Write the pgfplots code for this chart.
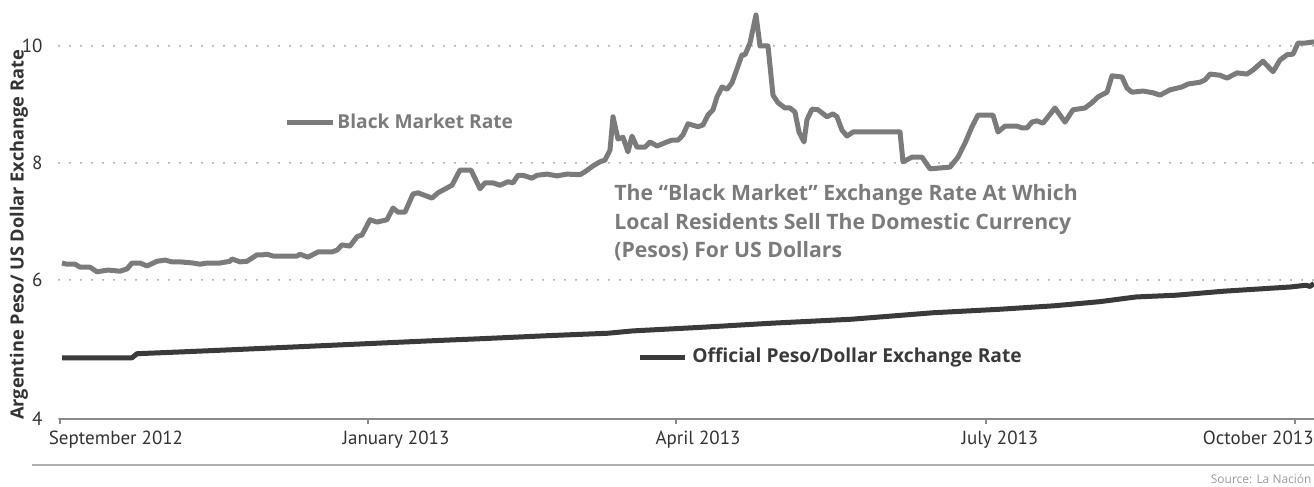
\documentclass[border=0pt]{standalone}
\usepackage{fontspec}
\setmainfont{Open Sans}
\newfontfamily\tickfont{PT Sans}
\usepackage{pgfplots}
\pgfplotsset{compat=1.18}
\definecolor{bm}{HTML}{7B7B7B}
\definecolor{off}{HTML}{3A3A3A}
\definecolor{txt}{HTML}{333333}
\definecolor{gridc}{HTML}{9A9A9A}
\definecolor{axc}{HTML}{8A8A8A}
\begin{document}
\begin{tikzpicture}[x=1pt,y=1pt]
\path[use as bounding box] (0,0) rectangle (657,243.5);
\begin{axis}[
  at={(29.5pt,34pt)}, anchor=south west,
  scale only axis, width=627.5pt, height=209.5pt,
  xmin=59, xmax=1314, ymin=3.624, ymax=10.786,
  axis x line*=bottom, axis y line*=left,
  y axis line style={draw=none},
  x axis line style={draw=axc, line width=0.8pt},
  xtick={60,368,676,986,1295}, xticklabel=\empty,
  x tick style={draw=axc, line width=0.8pt}, tick align=outside,
  major tick length=2.5pt,
  ytick={3.624,6,8,10}, yticklabels={4,6,8,10},
  y tick style={draw=none},
  yticklabel style={anchor=east, inner sep=0pt, xshift=-5.5pt,
    font=\tickfont\fontsize{9.5}{10}\selectfont, text=txt},
  ymajorgrids,
  grid style={draw=gridc, line width=1pt, dash pattern=on 0pt off 5.5pt, line cap=round},
  clip=false,
]
\addplot[bm, line width=2.5pt, line join=round] coordinates {
(62,6.29) (67,6.27) (75,6.27) (80,6.22) (90,6.22) (97,6.14) (108,6.17) (120,6.15)
(127,6.19) (132,6.29) (140,6.29) (147,6.24) (157,6.32) (165,6.34) (172,6.31) (180,6.31)
(193,6.29) (200,6.27) (207,6.29) (220,6.29) (230,6.32) (232,6.36) (240,6.31) (247,6.32)
(257,6.43) (263,6.43) (267,6.44) (273,6.41) (297,6.41) (300,6.44) (308,6.39) (318,6.48)
(332,6.48) (337,6.51) (342,6.60) (350,6.58) (357,6.74) (362,6.77) (370,7.03) (377,6.99)
(387,7.03) (393,7.23) (398,7.16) (405,7.16) (413,7.47) (418,7.49) (432,7.40) (438,7.49)
(452,7.62) (460,7.88) (471,7.88) (480,7.56) (485,7.66) (493,7.66) (500,7.62) (508,7.68)
(513,7.66) (518,7.79) (523,7.79) (532,7.74) (537,7.79) (547,7.81) (557,7.78) (567,7.81)
(580,7.80) (585,7.85) (593,7.95) (600,8.02) (605,8.05) (610,8.22) (613,8.79) (618,8.41)
(623,8.44) (628,8.19) (632,8.46) (637,8.27) (645,8.27) (650,8.36) (657,8.29) (667,8.36)
(672,8.39) (678,8.39) (683,8.48) (688,8.67) (698,8.62) (703,8.65) (708,8.82) (713,8.91)
(717,9.13) (722,9.30) (727,9.26) (732,9.37) (742,9.85) (745,9.85) (750,10.05) (756,10.53)
(760,10.00) (768,10.00) (773,9.16) (778,9.03) (785,8.94) (790,8.94) (795,8.87) (799,8.53)
(804,8.36) (807,8.74) (812,8.92) (818,8.91) (827,8.79) (833,8.84) (837,8.79) (842,8.56)
(847,8.46) (853,8.53) (900,8.53) (903,8.02) (912,8.10) (922,8.10) (930,7.90) (937,7.91)
(950,7.93) (958,8.10) (965,8.34) (972,8.62) (978,8.82) (993,8.82) (998,8.53) (1005,8.63)
(1017,8.63) (1022,8.60) (1027,8.60) (1032,8.70) (1037,8.72) (1043,8.68) (1055,8.94) (1065,8.70)
(1073,8.91) (1085,8.94) (1092,9.03) (1098,9.13) (1107,9.21) (1112,9.49) (1122,9.47) (1127,9.28)
(1132,9.21) (1143,9.23) (1153,9.20) (1160,9.16) (1170,9.25) (1182,9.30) (1188,9.35) (1200,9.38)
(1205,9.42) (1210,9.52) (1220,9.50) (1227,9.45) (1237,9.54) (1247,9.52) (1253,9.59) (1263,9.74)
(1273,9.56) (1280,9.76) (1287,9.85) (1293,9.86) (1298,10.05) (1305,10.05) (1314,10.07)
};
\addplot[off, line width=2.5pt, line join=round] coordinates {
(62,4.67) (132,4.67) (137,4.74) (180,4.77) (235,4.81) (300,4.86) (365,4.91) (430,4.96)
(486,5.00) (550,5.05) (608,5.09) (633,5.13) (700,5.19) (770,5.26) (852,5.33) (933,5.44)
(1000,5.50) (1055,5.56) (1100,5.63) (1136,5.71) (1176,5.74) (1225,5.81) (1290,5.88)
(1306,5.91) (1310,5.89) (1314,5.94)
};
\end{axis}
% x tick labels
\begin{scope}[every node/.style={inner sep=0pt, text=txt, font=\tickfont\fontsize{9.5}{10}\selectfont}]
\node[anchor=base] at (58,21) {September 2012};
\node[anchor=base] at (198,21) {January 2013};
\node[anchor=base] at (349,21) {April 2013};
\node[anchor=base] at (500,21) {July 2013};
\node[anchor=base east] at (657,21) {October 2013};
\end{scope}
% y label
\node[rotate=90, inner sep=0pt, text=txt, font=\bfseries\fontsize{9.1}{10}\selectfont] at (9.5,126) {Argentine Peso/ US Dollar Exchange Rate};
% series labels
\draw[bm, line width=2.5pt] (143.5,182) -- (166.5,182);
\node[anchor=base west, inner sep=0pt, text=bm, font=\bfseries\fontsize{9.6}{10}\selectfont] at (168.5,179) {Black Market Rate};
\draw[off, line width=2.5pt] (320,64.5) -- (342.5,64.5);
\node[anchor=base west, inner sep=0pt, text=off, font=\bfseries\fontsize{9.6}{10}\selectfont] at (346,62) {Official Peso/Dollar Exchange Rate};
% annotation
\begin{scope}[every node/.style={anchor=base west, inner sep=0pt, text=bm, font=\bfseries\fontsize{10.6}{12}\selectfont}]
\node at (307,143) {The “Black Market” Exchange Rate At Which};
\node at (307,128.5) {Local Residents Sell The Domestic Currency};
\node at (307,114.5) {(Pesos) For US Dollars};
\end{scope}
% bottom rule and source
\draw[draw=gridc!80, line width=1pt] (16,11) -- (657,11);
\node[anchor=base east, inner sep=0pt, text=gridc, font=\fontsize{6}{7}\selectfont] at (656,1.8) {Source: La Nación};
\end{tikzpicture}
\end{document}
